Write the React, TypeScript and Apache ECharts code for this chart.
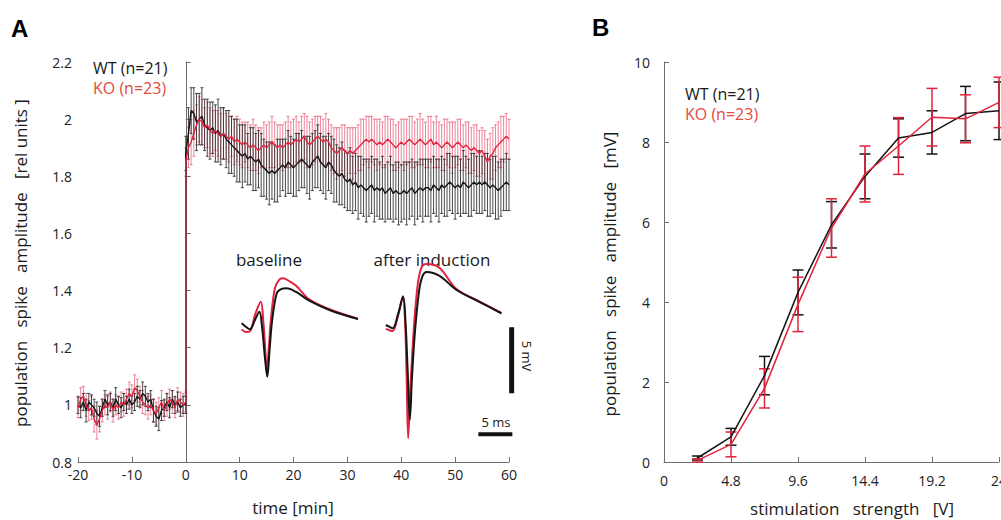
import React, { useEffect, useRef } from "react";
import * as echarts from "echarts";

// ---------- Panel A: time course (relative population spike amplitude) ----------
const TIME_STEP_MIN = 0.5;
const BASELINE_START_MIN = -20;
const A_X_TICKS = [-20, -10, 0, 10, 20, 30, 40, 50, 60];

const WT_BASELINE = [
  1.0, 0.99, 1.01, 0.98, 1.01, 1.0, 0.99, 0.97, 0.96, 0.99,
  1.02, 1.0, 1.01, 0.99, 1.02, 1.0, 0.99, 1.01, 1.0, 1.02,
  1.0, 1.01, 1.03, 1.02, 1.04, 1.03, 1.01, 1.02, 0.98, 0.96,
  0.95, 0.98, 0.99, 1.01, 0.99, 1.02, 1.0, 1.01, 0.99, 1.0,
  1.0,
];
const WT_BASELINE_SEM = [
  0.03, 0.035, 0.03, 0.04, 0.03, 0.035, 0.03, 0.04, 0.035, 0.03,
  0.03, 0.035, 0.03, 0.03, 0.04, 0.03, 0.035, 0.03, 0.03, 0.035,
  0.03, 0.03, 0.035, 0.03, 0.04, 0.035, 0.03, 0.03, 0.04, 0.035,
  0.04, 0.035, 0.03, 0.03, 0.035, 0.03, 0.03, 0.035, 0.03, 0.03,
  0.03,
];
const KO_BASELINE = [
  0.99, 1.02, 1.03, 1.0, 0.98, 0.99, 0.95, 0.93, 0.95, 0.98,
  1.0, 0.99, 1.01, 0.98, 1.0, 0.99, 1.01, 1.0, 1.02, 1.04,
  1.03, 1.06, 1.05, 1.03, 1.01, 1.0, 0.99, 1.0, 0.98, 0.97,
  0.99, 1.01, 0.98, 1.0, 1.02, 1.01, 0.99, 1.02, 1.01, 1.0,
  1.01,
];
const KO_BASELINE_SEM = [
  0.035, 0.04, 0.035, 0.04, 0.035, 0.04, 0.045, 0.05, 0.045, 0.04,
  0.035, 0.04, 0.035, 0.04, 0.035, 0.04, 0.035, 0.04, 0.035, 0.04,
  0.04, 0.045, 0.04, 0.035, 0.04, 0.035, 0.04, 0.035, 0.04, 0.04,
  0.035, 0.04, 0.035, 0.04, 0.035, 0.04, 0.035, 0.04, 0.035, 0.04,
  0.035,
];
const WT_POST = [
  1.88, 1.95, 2.03, 2.02, 1.99, 2.0, 2.01, 1.98, 1.97, 1.96,
  1.97, 1.95, 1.96, 1.94, 1.95, 1.93, 1.92, 1.91, 1.9, 1.89,
  1.88, 1.87, 1.88, 1.86, 1.87, 1.86, 1.85, 1.86, 1.84, 1.83,
  1.82, 1.81, 1.82, 1.81, 1.82, 1.83, 1.84, 1.83, 1.85, 1.84,
  1.83, 1.84, 1.85, 1.86, 1.85, 1.84, 1.83, 1.85, 1.86, 1.87,
  1.85, 1.84, 1.83, 1.85, 1.84, 1.82, 1.81, 1.8, 1.81, 1.79,
  1.78, 1.79, 1.77, 1.78, 1.76, 1.77, 1.76, 1.75, 1.76, 1.77,
  1.75, 1.76, 1.75, 1.76, 1.74, 1.75, 1.76, 1.74, 1.75, 1.74,
  1.74, 1.75, 1.74, 1.75, 1.76, 1.74, 1.75, 1.76, 1.75, 1.76,
  1.76, 1.75, 1.77, 1.76, 1.75, 1.77, 1.76, 1.77, 1.78, 1.77,
  1.76, 1.77, 1.76, 1.78, 1.77, 1.76, 1.77, 1.78, 1.77, 1.78,
  1.77, 1.78, 1.77, 1.76, 1.77, 1.76, 1.75, 1.76, 1.77, 1.78,
  1.77,
];
const WT_POST_SEM = [
  0.06, 0.09, 0.08, 0.09, 0.1, 0.09, 0.1, 0.09, 0.1, 0.1,
  0.09, 0.1, 0.11, 0.1, 0.09, 0.1, 0.11, 0.1, 0.1, 0.11,
  0.1, 0.11, 0.1, 0.09, 0.1, 0.11, 0.1, 0.1, 0.11, 0.1,
  0.1, 0.11, 0.1, 0.1, 0.11, 0.1, 0.09, 0.1, 0.11, 0.1,
  0.1, 0.11, 0.1, 0.1, 0.09, 0.1, 0.11, 0.1, 0.1, 0.11,
  0.1, 0.1, 0.11, 0.1, 0.1, 0.11, 0.1, 0.1, 0.11, 0.1,
  0.1, 0.11, 0.1, 0.1, 0.11, 0.1, 0.1, 0.11, 0.1, 0.1,
  0.11, 0.1, 0.1, 0.11, 0.1, 0.1, 0.11, 0.1, 0.1, 0.11,
  0.1, 0.1, 0.11, 0.1, 0.1, 0.11, 0.1, 0.1, 0.11, 0.1,
  0.1, 0.11, 0.1, 0.1, 0.11, 0.1, 0.1, 0.11, 0.1, 0.1,
  0.11, 0.1, 0.1, 0.11, 0.1, 0.1, 0.11, 0.1, 0.1, 0.11,
  0.1, 0.1, 0.11, 0.1, 0.1, 0.11, 0.1, 0.1, 0.09, 0.1,
  0.09,
];
const KO_POST = [
  1.85, 1.9, 1.92, 1.95, 1.98, 2.0, 1.99, 1.97, 1.98, 1.96,
  1.95, 1.96, 1.95, 1.94, 1.95, 1.94, 1.93, 1.94, 1.92, 1.93,
  1.92, 1.91, 1.92, 1.91, 1.9, 1.91, 1.9, 1.89, 1.9, 1.91,
  1.9, 1.91, 1.92, 1.91, 1.9, 1.91, 1.9, 1.91, 1.92, 1.91,
  1.92, 1.93, 1.92, 1.93, 1.94, 1.92, 1.91, 1.92, 1.93, 1.94,
  1.93, 1.92, 1.93, 1.92, 1.9, 1.89, 1.88, 1.89, 1.9, 1.89,
  1.88, 1.89, 1.88, 1.89, 1.9, 1.91, 1.92, 1.93, 1.92, 1.93,
  1.92, 1.91, 1.92, 1.91, 1.92, 1.93, 1.92, 1.91, 1.9, 1.91,
  1.92, 1.91, 1.92, 1.93, 1.92, 1.91, 1.92, 1.93, 1.92, 1.91,
  1.92, 1.93, 1.91, 1.92, 1.91, 1.9, 1.91, 1.92, 1.91, 1.9,
  1.91, 1.92, 1.91, 1.9, 1.91, 1.9, 1.89, 1.9, 1.89, 1.88,
  1.89, 1.87, 1.85, 1.87, 1.88, 1.9, 1.91, 1.92, 1.93, 1.94,
  1.93,
];
const KO_POST_SEM = [
  0.05, 0.07, 0.08, 0.08, 0.07, 0.08, 0.08, 0.07, 0.08, 0.08,
  0.08, 0.07, 0.08, 0.08, 0.09, 0.08, 0.08, 0.07, 0.08, 0.08,
  0.08, 0.08, 0.07, 0.08, 0.08, 0.09, 0.08, 0.08, 0.07, 0.08,
  0.08, 0.08, 0.09, 0.08, 0.08, 0.07, 0.08, 0.08, 0.09, 0.08,
  0.08, 0.08, 0.07, 0.08, 0.08, 0.09, 0.08, 0.08, 0.08, 0.07,
  0.08, 0.08, 0.09, 0.08, 0.08, 0.08, 0.09, 0.08, 0.08, 0.09,
  0.09, 0.08, 0.09, 0.08, 0.08, 0.09, 0.08, 0.08, 0.09, 0.08,
  0.08, 0.09, 0.08, 0.08, 0.09, 0.08, 0.08, 0.09, 0.08, 0.08,
  0.08, 0.09, 0.08, 0.08, 0.09, 0.08, 0.08, 0.09, 0.08, 0.08,
  0.09, 0.08, 0.08, 0.09, 0.08, 0.08, 0.09, 0.08, 0.08, 0.09,
  0.08, 0.08, 0.09, 0.08, 0.08, 0.09, 0.08, 0.08, 0.09, 0.08,
  0.08, 0.09, 0.08, 0.08, 0.09, 0.08, 0.08, 0.09, 0.08, 0.08,
  0.07,
];

// ---------- Inset: example field potentials [ms, mV] ----------
const TRACE_BASELINE_WT = [
  [0, 0.51], [0.6, 0.25], [1.2, 0.05], [1.9, 0.7], [2.6, 1.39], [3.0, 0.2],
  [3.4, -2.0], [3.76, -3.54], [4.1, -1.5], [4.45, 0.6], [5.15, 2.78],
  [5.8, 3.1], [6.6, 3.16], [8.0, 2.88], [10.0, 2.2], [13.0, 1.5], [17.1, 0.83],
];
const TRACE_BASELINE_KO = [
  [0, 0.05], [0.6, -0.15], [1.2, -0.1], [2.0, 1.2], [2.8, 2.14], [3.2, 0.5],
  [3.5, -1.8], [3.68, -3.16], [4.0, -1.3], [4.3, 0.8], [4.9, 3.2],
  [5.6, 3.85], [6.1, 3.92], [7.0, 3.7], [8.0, 3.35], [10.0, 2.3], [13.0, 1.55], [17.1, 0.85],
];
const TRACE_INDUCTION_WT = [
  [0, 0.38], [0.5, 0.25], [1.0, 0.13], [1.8, 1.2], [2.54, 2.52], [2.9, 0.5],
  [3.2, -3.0], [3.53, -6.8], [3.85, -3.5], [4.3, 0.0], [4.9, 3.0],
  [5.4, 4.1], [6.0, 4.4], [7.9, 4.1], [10.4, 3.03], [13.8, 2.12], [17.0, 1.27],
];
const TRACE_INDUCTION_KO = [
  [0, 0.08], [0.5, -0.02], [1.0, -0.08], [1.8, 1.1], [2.5, 2.55], [2.85, 0.3],
  [3.05, -3.5], [3.28, -8.2], [3.6, -4.5], [4.1, 0.0], [4.7, 3.5],
  [5.3, 4.8], [6.0, 5.0], [7.9, 4.7], [10.4, 3.1], [13.8, 2.15], [17.0, 1.27],
];
const SCALE_MV = 5;
const SCALE_MS = 5;

// ---------- Panel B: input-output curve ----------
const STIM_V = [2.4, 4.8, 7.2, 9.6, 12, 14.4, 16.8, 19.2, 21.6, 24];
const WT_PS = [0.1, 0.63, 2.16, 4.24, 5.93, 7.14, 8.1, 8.24, 8.71, 8.78];
const WT_PS_SEM = [0.05, 0.21, 0.48, 0.56, 0.58, 0.56, 0.48, 0.54, 0.68, 0.72];
const KO_PS = [0.04, 0.44, 1.84, 3.94, 5.85, 7.2, 7.9, 8.62, 8.58, 8.99];
const KO_PS_SEM = [0.04, 0.31, 0.49, 0.68, 0.73, 0.7, 0.71, 0.72, 0.6, 0.63];

// ---------- styling / layout ----------
const BLACK = "#141414";
const RED = "#e2233d";
const RED_BAR = "rgba(226,60,90,0.62)";
const BLACK_BAR = "rgba(35,35,35,0.82)";
const KO_TEXT = "#e14a3e";
const AXIS_GREY = "#6e6e6e";
const FONT = "'Open Sans', 'Noto Sans', sans-serif";

// inset coordinate box (pixels) and its ms / mV scale
const INSET = { left: 230, top: 250, width: 290, height: 200 };
const INSET_X_MIN = -1.72;
const INSET_PX_PER_MS = 6.8;
const INSET_Y_MIN = -9.09;
const INSET_PX_PER_MV = 13.2;
const INDUCTION_TRACE_OFFSET_MS = 21.2;
const SCALE_BAR_X_MS = 39.7;
const SCALE_BAR_BOTTOM_MV = -4.8;
const SCALE_H_START_MS = 34.8;
const SCALE_H_Y_MV = -7.9;

function timeCourse(baseline: number[], post: number[]) {
  const pts: number[][] = [];
  baseline.forEach((v, i) => pts.push([BASELINE_START_MIN + i * TIME_STEP_MIN, v]));
  post.forEach((v, i) => pts.push([i * TIME_STEP_MIN, v]));
  return pts;
}
function timeCourseBars(baseline: number[], bSem: number[], post: number[], pSem: number[]) {
  const pts: number[][] = [];
  baseline.forEach((v, i) => pts.push([BASELINE_START_MIN + i * TIME_STEP_MIN, v - bSem[i], v + bSem[i]]));
  post.forEach((v, i) => pts.push([i * TIME_STEP_MIN, v - pSem[i], v + pSem[i]]));
  return pts;
}

function errorBars(data: number[][], color: string, lw: number, capHalf: number, axis: number, z: number) {
  return {
    type: "custom",
    xAxisIndex: axis,
    yAxisIndex: axis,
    z,
    silent: true,
    clip: false,
    encode: { x: 0, y: [1, 2] },
    data,
    renderItem: (_params: any, api: any) => {
      const x = api.value(0);
      const a = api.coord([x, api.value(1)]);
      const b = api.coord([x, api.value(2)]);
      const style = { stroke: color, lineWidth: lw };
      return {
        type: "group",
        children: [
          { type: "line", shape: { x1: a[0], y1: a[1], x2: b[0], y2: b[1] }, style },
          { type: "line", shape: { x1: a[0] - capHalf, y1: a[1], x2: a[0] + capHalf, y2: a[1] }, style },
          { type: "line", shape: { x1: b[0] - capHalf, y1: b[1], x2: b[0] + capHalf, y2: b[1] }, style },
        ],
      };
    },
  };
}

function fmt(v: number) {
  return String(parseFloat(v.toFixed(1)));
}

function axisCommon(labelMargin: number) {
  return {
    axisLine: { show: true, lineStyle: { color: AXIS_GREY, width: 1 } },
    axisTick: { show: true, inside: true, length: 5, lineStyle: { color: AXIS_GREY } },
    axisLabel: { color: "#222", fontSize: 14, fontFamily: FONT, margin: labelMargin, formatter: fmt },
    splitLine: { show: false },
  };
}

function text(x: number, y: number, t: string, extra: any = {}) {
  return {
    type: "text",
    x,
    y,
    silent: true,
    style: {
      text: t,
      fill: "#1a1a1a",
      fontSize: 17,
      fontFamily: FONT,
      align: "left",
      verticalAlign: "middle",
      ...extra,
    },
  };
}

export default function App() {
  const ref = useRef<HTMLDivElement>(null);

  useEffect(() => {
    if (!ref.current) return;
    const chart = echarts.init(ref.current, undefined, { renderer: "svg" });

    const insetXMax = INSET_X_MIN + INSET.width / INSET_PX_PER_MS;
    const insetYMax = INSET_Y_MIN + INSET.height / INSET_PX_PER_MV;
    const shift = (tr: number[][], dt: number) => tr.map(([t, v]) => [t + dt, v]);

    const option: any = {
      animation: false,
      backgroundColor: "#ffffff",
      grid: [
        { left: 78, right: 492, top: 62, bottom: 58, outerBoundsMode: "none" },
        { left: INSET.left, top: INSET.top, width: INSET.width, height: INSET.height, outerBoundsMode: "none" },
        { left: 664, right: 2, top: 62, bottom: 58, outerBoundsMode: "none" },
      ],
      xAxis: [
        { type: "value", gridIndex: 0, min: A_X_TICKS[0], max: A_X_TICKS[A_X_TICKS.length - 1], interval: 10, ...axisCommon(5) },
        { type: "value", gridIndex: 1, min: INSET_X_MIN, max: insetXMax, show: false },
        { type: "value", gridIndex: 2, min: 0, max: 24, interval: 4.8, ...axisCommon(11) },
      ],
      yAxis: [
        { type: "value", gridIndex: 0, min: 0.8, max: 2.2, interval: 0.2, ...axisCommon(6) },
        { type: "value", gridIndex: 1, min: INSET_Y_MIN, max: insetYMax, show: false },
        { type: "value", gridIndex: 2, min: 0, max: 10, interval: 2, ...axisCommon(14) },
      ],
      series: [
        errorBars(timeCourseBars(KO_BASELINE, KO_BASELINE_SEM, KO_POST, KO_POST_SEM), RED_BAR, 1, 1.5, 0, 1),
        errorBars(timeCourseBars(WT_BASELINE, WT_BASELINE_SEM, WT_POST, WT_POST_SEM), BLACK_BAR, 1, 1.5, 0, 2),
        {
          type: "line", xAxisIndex: 0, yAxisIndex: 0, z: 3, showSymbol: false, silent: true,
          data: timeCourse(WT_BASELINE, WT_POST), lineStyle: { color: BLACK, width: 1.4 },
        },
        {
          type: "line", xAxisIndex: 0, yAxisIndex: 0, z: 4, showSymbol: false, silent: true,
          data: timeCourse(KO_BASELINE, KO_POST), lineStyle: { color: RED, width: 1.4 },
        },
        // inset traces
        ...[
          [TRACE_BASELINE_KO, 0, RED, 5],
          [TRACE_BASELINE_WT, 0, BLACK, 6],
          [TRACE_INDUCTION_KO, INDUCTION_TRACE_OFFSET_MS, RED, 5],
          [TRACE_INDUCTION_WT, INDUCTION_TRACE_OFFSET_MS, BLACK, 6],
        ].map(([tr, dt, c, z]: any) => ({
          type: "line", xAxisIndex: 1, yAxisIndex: 1, z, showSymbol: false, silent: true,
          smooth: 0.35, data: shift(tr, dt), lineStyle: { color: c, width: 2 },
        })),
        {
          type: "line", xAxisIndex: 1, yAxisIndex: 1, z: 6, showSymbol: false, silent: true,
          data: [[SCALE_BAR_X_MS, SCALE_BAR_BOTTOM_MV], [SCALE_BAR_X_MS, SCALE_BAR_BOTTOM_MV + SCALE_MV]],
          lineStyle: { color: "#111", width: 5, cap: "butt" },
        },
        {
          type: "line", xAxisIndex: 1, yAxisIndex: 1, z: 6, showSymbol: false, silent: true,
          data: [[SCALE_H_START_MS, SCALE_H_Y_MV], [SCALE_H_START_MS + SCALE_MS, SCALE_H_Y_MV]],
          lineStyle: { color: "#111", width: 4, cap: "butt" },
        },
        // panel B
        errorBars(STIM_V.map((x, i) => [x, WT_PS[i] - WT_PS_SEM[i], WT_PS[i] + WT_PS_SEM[i]]), BLACK, 1.5, 5.5, 2, 2),
        errorBars(STIM_V.map((x, i) => [x, KO_PS[i] - KO_PS_SEM[i], KO_PS[i] + KO_PS_SEM[i]]), RED, 1.5, 5.5, 2, 3),
        {
          type: "line", xAxisIndex: 2, yAxisIndex: 2, z: 4, showSymbol: false, silent: true, clip: false,
          data: STIM_V.map((x, i) => [x, WT_PS[i]]), lineStyle: { color: BLACK, width: 1.5 },
        },
        {
          type: "line", xAxisIndex: 2, yAxisIndex: 2, z: 5, showSymbol: false, silent: true, clip: false,
          data: STIM_V.map((x, i) => [x, KO_PS[i]]), lineStyle: { color: RED, width: 1.5 },
        },
      ],
      graphic: [
        text(11, 28, "A", { fontSize: 24, fontWeight: "bold", fontFamily: "'Liberation Sans', Arial, sans-serif", fill: "#000" }),
        text(592, 27, "B", { fontSize: 24, fontWeight: "bold", fontFamily: "'Liberation Sans', Arial, sans-serif", fill: "#000" }),
        text(93, 68, "WT (n=21)", { fontSize: 16 }),
        text(93, 88, "KO (n=23)", { fontSize: 16, fill: KO_TEXT }),
        text(685, 94, "WT (n=21)", { fontSize: 16 }),
        text(685, 114, "KO (n=23)", { fontSize: 16, fill: KO_TEXT }),
        text(269, 259, "baseline", { align: "center" }),
        text(432, 259, "after induction", { align: "center" }),
        text(496, 422, "5 ms", { align: "center", fontSize: 13 }),
        {
          type: "text", x: 527, y: 356, rotation: -Math.PI / 2, silent: true,
          style: { text: "5 mV", fontSize: 13, fontFamily: FONT, fill: "#1a1a1a", align: "center", verticalAlign: "middle" },
        },
        text(293, 507, "time [min]", { align: "center" }),
        text(852, 508, "stimulation   strength   [V]", { align: "center" }),
        {
          type: "text", x: 20, y: 263, rotation: Math.PI / 2, silent: true,
          style: { text: "population   spike   amplitude   [rel units ]", fontSize: 17, fontFamily: FONT, fill: "#1a1a1a", align: "center", verticalAlign: "middle" },
        },
        {
          type: "text", x: 609, y: 274, rotation: Math.PI / 2, silent: true,
          style: { text: "population   spike   amplitude   [mV]", fontSize: 17, fontFamily: FONT, fill: "#1a1a1a", align: "center", verticalAlign: "middle" },
        },
      ],
    };

    chart.setOption(option);
    return () => chart.dispose();
  }, []);

  return (
    <div
      ref={ref}
      style={{ position: "fixed", left: 0, top: 0, width: 1001, height: 520, background: "#fff" }}
    />
  );
}
